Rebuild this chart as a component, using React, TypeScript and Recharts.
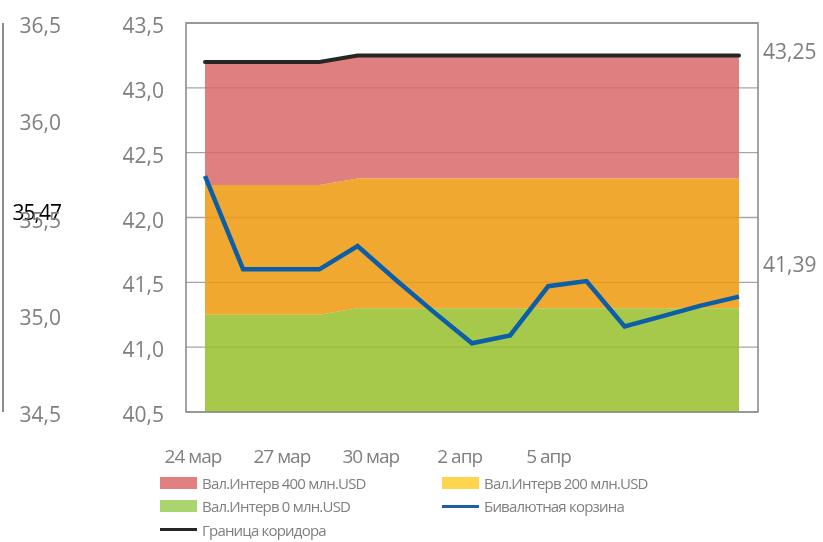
import React from 'react';
import {
  ComposedChart, Area, Line, XAxis, YAxis, CartesianGrid, ReferenceArea, LabelList
} from 'recharts';

// main chart: daily points, 24.03 - 07.04
const days = ['24.03', '25.03', '26.03', '27.03', '28.03', '29.03', '30.03', '31.03', '01.04', '02.04', '03.04', '04.04', '05.04', '06.04', '07.04'];
const basket = [42.32, 41.6, 41.6, 41.6, 41.78, 41.52, 41.27, 41.03, 41.09, 41.47, 41.51, 41.16, 41.24, 41.32, 41.39];
const corridor = [43.2, 43.2, 43.2, 43.2, 43.25, 43.25, 43.25, 43.25, 43.25, 43.25, 43.25, 43.25, 43.25, 43.25, 43.25];
const level200 = [42.25, 42.25, 42.25, 42.25, 42.3, 42.3, 42.3, 42.3, 42.3, 42.3, 42.3, 42.3, 42.3, 42.3, 42.3];
const level0 = [41.25, 41.25, 41.25, 41.25, 41.3, 41.3, 41.3, 41.3, 41.3, 41.3, 41.3, 41.3, 41.3, 41.3, 41.3];
const mainTicks = [40.5, 41, 41.5, 42, 42.5, 43, 43.5];

// background chart (calendar axis + left scale)
const bgDates = ['24 мар', '25 мар', '26 мар', '27 мар', '28 мар', '29 мар', '30 мар', '31 мар', '1 апр', '2 апр',
  '3 апр', '4 апр', '5 апр', '6 апр', '7 апр', '8 апр', '9 апр', '10 апр', '11 апр', '12 апр'];
const dateLabels = ['24 мар', '27 мар', '30 мар', '2 апр', '5 апр'];
const farTicks = [34.5, 35, 35.47, 35.5, 36, 36.5];
const farMarker = 35.47;

const legendItems = [
  { name: 'Вал.Интерв 400 млн.USD', color: '#e08080', kind: 'area' },
  { name: 'Вал.Интерв 200 млн.USD', color: '#ffd54f', kind: 'area' },
  { name: 'Вал.Интерв 0 млн.USD', color: '#a8d56e', kind: 'area' },
  { name: 'Бивалютная корзина', color: '#1f5f9f', kind: 'line' },
  { name: 'Граница коридора', color: '#262626', kind: 'line' },
];

const yMin = 40.5;
const FONT = '"Open Sans", sans-serif';
const GRAY = '#7f7f7f';

const data = days.map((d, i) => ({
  day: d,
  basket: basket[i],
  corridor: corridor[i],
  zone0: [yMin, level0[i]],
  zone200: [level0[i], level200[i]],
  zone400: [level200[i], corridor[i]],
}));
const bgData = bgDates.map((d) => ({ date: d }));

const comma = (v: number, digits: number) => v.toFixed(digits).replace('.', ',');

const MainTick = (props: any) => (
  <text x={props.x - 22} y={props.y + 2} textAnchor="end" dominantBaseline="central"
    fill={GRAY} fontSize={21} fontFamily={FONT}>
    {comma(props.payload.value, 1)}
  </text>
);

const FarTick = (props: any) => {
  const v = props.payload.value;
  const marker = v === farMarker;
  return (
    <text x={props.x + 58} y={marker ? props.y - 11 : props.y + 2} textAnchor="end" dominantBaseline="central"
      fill={marker ? '#000' : GRAY} fontSize={21} fontFamily={FONT} letterSpacing={marker ? -1 : 0}>
      {comma(v, marker ? 2 : 1)}
    </text>
  );
};

const DateTick = (props: any) => (
  <text x={props.x} y={props.y + 51} textAnchor="middle" fill={GRAY} fontSize={19}
    fontFamily={FONT} letterSpacing={-1}>
    {props.payload.value}
  </text>
);

const endLabel = (dy: number) => (p: any) =>
  p.index === days.length - 1 ? (
    <text x={p.x + 24} y={p.y + dy} dominantBaseline="central" fill={GRAY} fontSize={21} fontFamily={FONT}>
      {comma(p.value, 2)}
    </text>
  ) : null;

export default function App() {
  return (
    <div style={{ position: 'fixed', left: 0, top: 0, width: 823, height: 542, overflow: 'hidden' }}>
      {/* background: calendar axis and the left scale */}
      <div style={{ position: 'absolute', left: 0, top: 0 }}>
        <ComposedChart width={823} height={542} data={bgData} margin={{ top: 23, right: 65, bottom: 70, left: 0 }}>
          <XAxis dataKey="date" ticks={dateLabels} interval={0} padding={{ left: 190, right: 2 }} tick={<DateTick />}
            tickLine={false} axisLine={false} tickSize={0} tickMargin={0} height={60} />
          <YAxis yAxisId="far" domain={[34.5, 36.5]} ticks={farTicks} interval={0} width={3} allowDataOverflow
            tick={<FarTick />} tickLine={false} tickSize={0} tickMargin={0} axisLine={{ stroke: '#8c8c8c', strokeWidth: 2 }} />
        </ComposedChart>
      </div>
      {/* main chart */}
      <div style={{ position: 'absolute', left: 0, top: 0 }}>
        <ComposedChart width={823} height={542} data={data} margin={{ top: 23, right: 65, bottom: 130, left: 3 }}>
          <XAxis xAxisId="d" dataKey="day" hide padding={{ left: 19, right: 19 }} />
          <XAxis xAxisId="frame" dataKey="day" hide />
          <YAxis yAxisId="main" domain={[40.5, 43.5]} ticks={mainTicks} interval={0} width={183} allowDataOverflow
            tick={<MainTick />} tickLine={false} tickSize={0} tickMargin={0} axisLine={false} />
          <CartesianGrid xAxisId="frame" yAxisId="main" vertical={false} stroke="#a6a6a6" strokeWidth={1.3} />
          <Area xAxisId="d" yAxisId="main" dataKey="zone400" type="linear" stroke="none" fill="#d96868" fillOpacity={0.85} isAnimationActive={false} />
          <Area xAxisId="d" yAxisId="main" dataKey="zone200" type="linear" stroke="none" fill="#ed990c" fillOpacity={0.85} isAnimationActive={false} />
          <Area xAxisId="d" yAxisId="main" dataKey="zone0" type="linear" stroke="none" fill="#96be2c" fillOpacity={0.85} isAnimationActive={false} />
          <ReferenceArea xAxisId="frame" yAxisId="main" y1={40.5} y2={43.5} fill="none" stroke="#8c8c8c" strokeWidth={1.6} />
          <Line xAxisId="d" yAxisId="main" dataKey="corridor" type="linear" stroke="#262626" strokeWidth={4}
            strokeLinecap="round" dot={false} isAnimationActive={false}>
            <LabelList dataKey="corridor" content={endLabel(-4)} />
          </Line>
          <Line xAxisId="d" yAxisId="main" dataKey="basket" type="linear" stroke="#0b5ea8" strokeWidth={4.5}
            dot={false} isAnimationActive={false}>
            <LabelList dataKey="basket" content={endLabel(-33)} />
          </Line>
        </ComposedChart>
      </div>
      <div style={{
        position: 'absolute', left: 160, top: 471, display: 'grid', gridTemplateColumns: '282px 300px',
        fontFamily: FONT, fontSize: 15, color: GRAY, letterSpacing: -0.8,
      }}>
        {legendItems.map((it) => (
          <div key={it.name} style={{ display: 'flex', alignItems: 'center', height: 23.5, whiteSpace: 'nowrap' }}>
            <span style={{
              display: 'inline-block', width: 37, height: it.kind === 'area' ? 12 : 3,
              background: it.color, marginRight: 5,
            }} />
            {it.name}
          </div>
        ))}
      </div>
    </div>
  );
}
